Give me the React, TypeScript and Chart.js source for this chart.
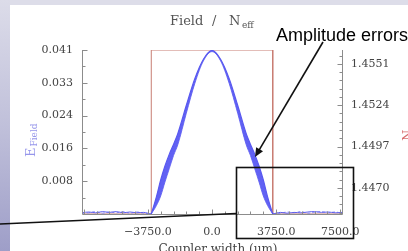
import { useEffect, useRef } from 'react';
import { Chart, registerables } from 'chart.js';

Chart.register(...registerables);

const W = 408;
const H = 251;

// Coupler width positions inside the guide (um)
const coreWidth = [
  -3550, -3250, -3000, -2750, -2500, -2250, -2000, -1500, -1000, -500, 0,
  500, 1000, 1500, 2000, 2250, 2500, 2750, 3000, 3250, 3550,
];
// Field envelope: upper and lower bounds (amplitude errors band)
const fieldUpper = [
  0.0, 0.0043, 0.0085, 0.0120, 0.0149, 0.0174, 0.0201, 0.0272, 0.0339, 0.0387, 0.0409,
  0.0387, 0.0339, 0.0272, 0.0201, 0.0174, 0.0149, 0.0120, 0.0085, 0.0043, 0.0,
];
const fieldLower = [
  0.0, 0.0021, 0.0045, 0.0080, 0.0113, 0.0146, 0.0173, 0.0252, 0.0327, 0.0383, 0.0406,
  0.0383, 0.0327, 0.0252, 0.0173, 0.0146, 0.0113, 0.0080, 0.0045, 0.0021, 0.0,
];

// Residual field outside the guide (um)
const cladLeftX = [-7600, -7200, -6800, -6400, -6000, -5600, -5200, -4800, -4400, -4000, -3550];
const cladLeftA = [0.0003, 0.0005, 0.0003, 0.0006, 0.0004, 0.0006, 0.0003, 0.0005, 0.0003, 0.0004, 0.0];
const cladLeftB = [0.0001, 0.0003, 0.0006, 0.0002, 0.0005, 0.0003, 0.0006, 0.0002, 0.0005, 0.0002, 0.0];
const cladRightX = [3550, 4000, 4400, 4800, 5200, 5600, 6000, 6400, 6800, 7200, 7600];
const cladRightA = [0.0, 0.0004, 0.0002, 0.0004, 0.0003, 0.0005, 0.0006, 0.0004, 0.0005, 0.0003, 0.0004];
const cladRightB = [0.0, 0.0002, 0.0005, 0.0003, 0.0006, 0.0002, 0.0004, 0.0006, 0.0003, 0.0005, 0.0002];

// Effective index step profile
const neffX = [-7600, -3550, -3550, 3550, 3550, 7600];
const neffY = [1.4453, 1.4453, 1.4560, 1.4560, 1.4453, 1.4453];

// Axes
const xMin = -7600;
const xMax = 7600;
const xTickValues = [-3750, 0, 3750, 7500];
const xTickLabels = ['\u22123750.0', '0.0', '3750.0', '7500.0'];
const xMinorStep = 750;

const fieldMin = 0;
const fieldMax = 0.041;
const fieldTickValues = [0.0082, 0.0164, 0.0246, 0.0328, 0.041];
const fieldTickLabels = ['0.008', '0.016', '0.024', '0.033', '0.041'];

const neffMin = 1.4453;
const neffMax = 1.456;
const neffTickValues = [1.447, 1.4497, 1.4524, 1.4551];
const neffTickLabels = ['1.4470', '1.4497', '1.4524', '1.4551'];
const neffMinorStep = 0.00054;

const SERIF = '"DejaVu Serif", serif';
const AXIS_GRAY = '#8c8c8c';
const TEXT_GRAY = '#444444';
const BLUE = 'rgb(88,88,240)';
const BLUE_LIGHT = 'rgb(125,125,245)';
const RED = 'rgb(200,125,115)';

const decor = {
  id: 'decor',
  beforeDraw(chart: any) {
    const ctx = chart.ctx as CanvasRenderingContext2D;
    ctx.save();
    ctx.fillStyle = '#ffffff';
    ctx.fillRect(0, 0, W, H);
    ctx.fillStyle = 'rgb(221,221,233)';
    ctx.fillRect(0, 0, W, 5);
    const g = ctx.createLinearGradient(0, 0, 0, H);
    g.addColorStop(0, 'rgb(220,220,233)');
    g.addColorStop(0.5, 'rgb(192,192,218)');
    g.addColorStop(1, 'rgb(158,158,200)');
    ctx.fillStyle = g;
    ctx.fillRect(0, 0, 10, H);
    ctx.restore();
  },
  afterDatasetsDraw(chart: any) {
    const ctx = chart.ctx as CanvasRenderingContext2D;
    const { left, right, top, bottom } = chart.chartArea;
    const xs = chart.scales.x;
    const ys = chart.scales.y;
    const y1 = chart.scales.y1;
    ctx.save();
    ctx.strokeStyle = AXIS_GRAY;
    ctx.lineWidth = 1;
    const seg = (x0: number, y0: number, x1: number, y1_: number) => {
      ctx.beginPath();
      ctx.moveTo(x0, y0);
      ctx.lineTo(x1, y1_);
      ctx.stroke();
    };
    const L = Math.round(left) + 0.5;
    const R = Math.round(right) + 0.5;
    const B = Math.round(bottom) + 0.5;
    seg(L, top, L, B);
    seg(L, B, R, B);
    seg(R, top, R, B);
    for (let i = 0; i < fieldTickValues.length; i++) {
      const py = Math.round(ys.getPixelForValue(fieldTickValues[i])) + 0.5;
      seg(L, py, L + 5, py);
      const prev = i === 0 ? fieldMin : fieldTickValues[i - 1];
      const my = Math.round(ys.getPixelForValue((prev + fieldTickValues[i]) / 2)) + 0.5;
      seg(L, my, L + 3, my);
    }
    for (let v = -7500; v <= xMax; v += xMinorStep) {
      const px = Math.round(xs.getPixelForValue(v)) + 0.5;
      const major = v % 3750 === 0;
      seg(px, B, px, B - (major ? 5 : 3));
    }
    for (let k = -3; k <= 20; k++) {
      const v = neffTickValues[0] + k * neffMinorStep;
      if (v < neffMin - 1e-9 || v > neffMax + 1e-9) continue;
      const py = Math.round(y1.getPixelForValue(v)) + 0.5;
      const major = k % 5 === 0;
      seg(R, py, R - (major ? 5 : 3), py);
    }
    ctx.restore();
  },
  afterDraw(chart: any) {
    const ctx = chart.ctx as CanvasRenderingContext2D;
    ctx.save();
    ctx.fillStyle = '#555555';
    ctx.textBaseline = 'alphabetic';
    ctx.textAlign = 'left';
    ctx.font = '13px ' + SERIF;
    ctx.fillText('Field', 170, 25);
    ctx.fillText('/', 212, 25);
    ctx.fillText('N', 229, 25);
    ctx.font = '9px ' + SERIF;
    ctx.fillText('eff', 242, 28);

    ctx.save();
    ctx.translate(35, 157);
    ctx.rotate(-Math.PI / 2);
    ctx.fillStyle = 'rgb(150,150,235)';
    ctx.font = '13px ' + SERIF;
    ctx.fillText('E', 0, 0);
    const ew = ctx.measureText('E').width;
    ctx.font = '9px ' + SERIF;
    ctx.fillText('Field', ew + 1, 2);
    ctx.restore();

    ctx.save();
    ctx.translate(412, 141);
    ctx.rotate(-Math.PI / 2);
    ctx.fillStyle = 'rgb(215,110,110)';
    ctx.font = '13px ' + SERIF;
    ctx.fillText('N', 0, 0);
    const nw = ctx.measureText('N').width;
    ctx.font = '9px ' + SERIF;
    ctx.fillText('eff', nw + 1, 3);
    ctx.restore();

    ctx.fillStyle = TEXT_GRAY;
    ctx.font = '12px ' + SERIF;
    ctx.textAlign = 'center';
    ctx.fillText('Coupler width (\u03bcm)', 218, 253);

    ctx.strokeStyle = '#111111';
    ctx.fillStyle = '#111111';
    ctx.lineWidth = 1.6;
    ctx.beginPath();
    ctx.moveTo(0, 224);
    ctx.lineTo(236, 213.5);
    ctx.stroke();
    ctx.strokeRect(236.5, 167.5, 117, 71);
    const tipX = 255;
    const tipY = 157;
    const sx = 323;
    const sy = 42;
    const ang = Math.atan2(tipY - sy, tipX - sx);
    ctx.beginPath();
    ctx.moveTo(sx, sy);
    ctx.lineTo(tipX - 6 * Math.cos(ang), tipY - 6 * Math.sin(ang));
    ctx.stroke();
    ctx.beginPath();
    ctx.moveTo(tipX, tipY);
    ctx.lineTo(tipX - 9 * Math.cos(ang) + 4 * Math.sin(ang), tipY - 9 * Math.sin(ang) - 4 * Math.cos(ang));
    ctx.lineTo(tipX - 9 * Math.cos(ang) - 4 * Math.sin(ang), tipY - 9 * Math.sin(ang) + 4 * Math.cos(ang));
    ctx.closePath();
    ctx.fill();

    ctx.fillStyle = '#000000';
    ctx.textAlign = 'left';
    ctx.font = '18px "Liberation Sans", Arial, sans-serif';
    ctx.fillText('Amplitude errors', 276, 40.5);
    ctx.restore();
  },
};

export default function App() {
  const ref = useRef<HTMLCanvasElement | null>(null);
  useEffect(() => {
    if (!ref.current) return;
    const tickFont = { family: '"DejaVu Serif", serif', size: 11 };
    const line = (xs: number[], ys: number[], extra: any) => ({
      data: xs.map((x, i) => ({ x, y: ys[i] })),
      yAxisID: 'y',
      pointRadius: 0,
      fill: false,
      ...extra,
    });
    const chart = new Chart(ref.current, {
      type: 'line',
      data: {
        datasets: [
          line(coreWidth, fieldUpper, {
            borderColor: BLUE,
            borderWidth: 1.2,
            backgroundColor: 'rgba(88,88,242,0.95)',
            fill: '+1',
            cubicInterpolationMode: 'monotone',
          }),
          line(coreWidth, fieldLower, {
            borderColor: BLUE_LIGHT,
            borderWidth: 1,
            cubicInterpolationMode: 'monotone',
          }),
          line(cladLeftX, cladLeftA, { borderColor: 'rgb(95,95,235)', borderWidth: 1, tension: 0.4 }),
          line(cladLeftX, cladLeftB, {
            borderColor: 'rgb(140,140,240)',
            borderWidth: 1,
            borderDash: [3, 2],
            tension: 0.4,
          }),
          line(cladRightX, cladRightA, { borderColor: 'rgb(95,95,235)', borderWidth: 1, tension: 0.4 }),
          line(cladRightX, cladRightB, {
            borderColor: 'rgb(140,140,240)',
            borderWidth: 1,
            borderDash: [3, 2],
            tension: 0.4,
          }),
          {
            data: neffX.map((x, i) => ({ x, y: neffY[i] })),
            yAxisID: 'y1',
            borderColor: RED,
            borderWidth: 1,
            fill: false,
            pointRadius: 0,
            tension: 0,
          },
        ],
      },
      options: {
        animation: false,
        responsive: false,
        maintainAspectRatio: false,
        devicePixelRatio: 1,
        layout: { padding: { top: 50, left: 0, right: 0, bottom: 0 } },
        plugins: {
          legend: { display: false },
          title: { display: false },
          tooltip: { enabled: false },
        },
        scales: {
          x: {
            type: 'linear',
            position: 'bottom',
            min: xMin,
            max: xMax,
            grid: { display: false, drawTicks: false },
            border: { display: false },
            ticks: {
              padding: 12,
              font: tickFont,
              color: TEXT_GRAY,
              autoSkip: false,
              maxRotation: 0,
              minRotation: 0,
              callback: (_v: any, i: number) => xTickLabels[i],
            },
            afterBuildTicks: (s: any) => {
              s.ticks = xTickValues.map((v) => ({ value: v }));
            },
            afterFit: (s: any) => {
              s.height = 37;
            },
          },
          y: {
            type: 'linear',
            position: 'left',
            min: fieldMin,
            max: fieldMax,
            grid: { display: false, drawTicks: false },
            border: { display: false },
            ticks: {
              padding: 9,
              font: tickFont,
              color: TEXT_GRAY,
              autoSkip: false,
              callback: (_v: any, i: number) => fieldTickLabels[i],
            },
            afterBuildTicks: (s: any) => {
              s.ticks = fieldTickValues.map((v) => ({ value: v }));
            },
            afterFit: (s: any) => {
              s.width = 82;
            },
          },
          y1: {
            type: 'linear',
            position: 'right',
            min: neffMin,
            max: neffMax,
            grid: { display: false, drawTicks: false },
            border: { display: false },
            ticks: {
              padding: 9,
              font: tickFont,
              color: TEXT_GRAY,
              autoSkip: false,
              callback: (_v: any, i: number) => neffTickLabels[i],
            },
            afterBuildTicks: (s: any) => {
              s.ticks = neffTickValues.map((v) => ({ value: v }));
            },
            afterFit: (s: any) => {
              s.width = 66;
            },
          },
        },
      } as any,
      plugins: [decor],
    });
    return () => chart.destroy();
  }, []);
  return (
    <div style={{ position: 'fixed', left: 0, top: 0, width: W, height: H, overflow: 'hidden' }}>
      <canvas ref={ref} width={W} height={H} style={{ display: 'block', width: W, height: H }} />
    </div>
  );
}
